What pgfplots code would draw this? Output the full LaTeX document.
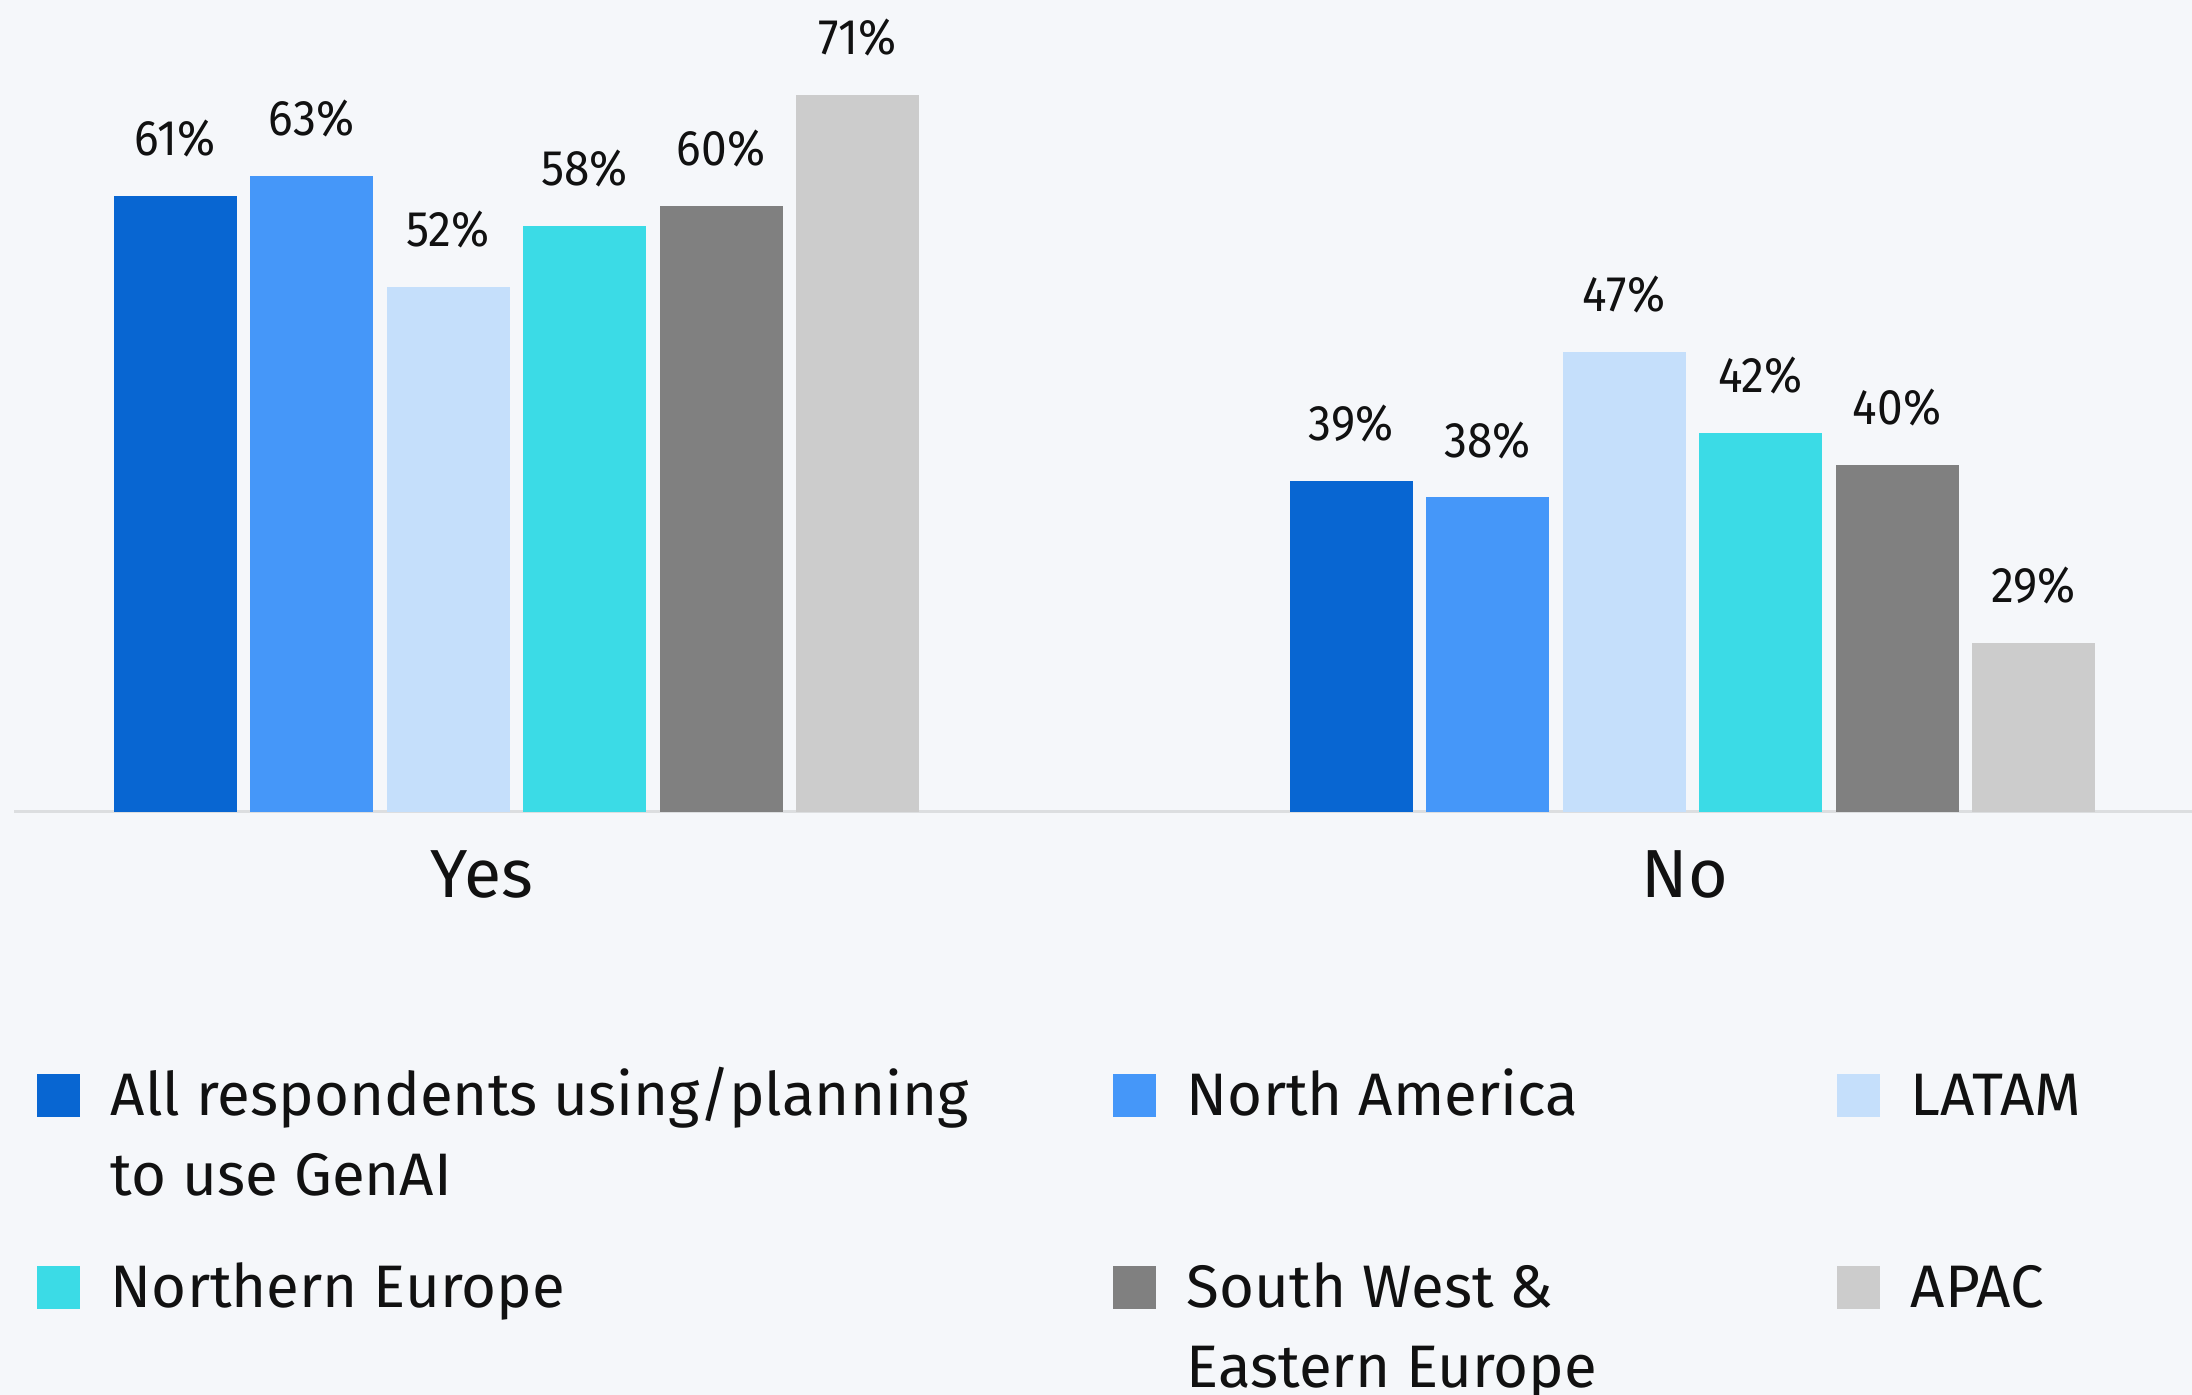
\documentclass[border=0pt]{standalone}
\usepackage{fontspec}
\setmainfont{Fira Sans}
\newfontfamily\labelfont[FakeStretch=0.92]{Fira Sans}
\usepackage{pgfplots}
\pgfplotsset{compat=1.18}
\definecolor{bgcol}{HTML}{F5F7FA}
\definecolor{cA}{HTML}{0866D2}
\definecolor{cB}{HTML}{4597F9}
\definecolor{cC}{HTML}{C5DFFB}
\definecolor{cD}{HTML}{3BDBE6}
\definecolor{cE}{HTML}{808080}
\definecolor{cF}{HTML}{CCCCCC}
\definecolor{axisgrey}{HTML}{DCDEE0}
\definecolor{txt}{HTML}{111111}
\pgfplotsset{
  mybar/.style={ybar, bar width=123, bar shift=0pt, draw=none, fill=#1,
    legend image code/.code={\fill[#1] (0pt,-0.5pt) rectangle (21.5pt,21pt);}},
  barlabels/.style={
    point meta=y,
    /pgf/number format/assume math mode=true,
    nodes near coords={\pgfmathprintnumber{\pgfplotspointmeta}\%},
    nodes near coords style={font=\labelfont\fontsize{25}{25}\selectfont, text=txt,
      inner sep=0pt, text depth=0pt, yshift=20pt}},
  base/.style={at={(7pt,291.6pt)}, anchor=south west, scale only axis,
    width=1089pt, height=405.9pt, xmin=14, xmax=2192},
}
\begin{document}
\begin{tikzpicture}
\fill[bgcol] (0,0) rectangle (1096pt,697.5pt);
\begin{axis}[base, ymin=0, ymax=80.42, barlabels,
  axis x line=bottom, axis y line=none,
  axis line style={draw=axisgrey, line width=1.3pt, -},
  xtick={482,1685}, xticklabels={Yes,No},
  xticklabel style={font=\fontsize{34}{34}\selectfont, text=txt, anchor=base, yshift=-43pt, inner sep=0pt},
  major tick length=0pt, ytick=\empty,
  legend columns=3,
  legend style={at={(0.01056,-0.3205)}, anchor=north west, draw=none, fill=none,
    inner sep=0pt, outer sep=0pt, column sep=15.5pt, row sep=73.5pt,
    font=\fontsize{30}{40}\selectfont, text=txt,
    cells={anchor=base west},
    nodes={inner sep=0pt, outer sep=0pt, text height=22pt, text depth=0pt, anchor=base west}},
]
\addplot[mybar=cA] coordinates {(175,61)};
\addlegendentry{\parbox[t]{485.5pt}{\raggedright All respondents using/planning\\to use GenAI}}
\addplot[mybar=cB] coordinates {(311.5,63)};
\addlegendentry{\parbox[t]{309.5pt}{\raggedright North America}}
\addplot[mybar=cC] coordinates {(448,52)};
\addlegendentry{LATAM}
\addplot[mybar=cD] coordinates {(584.5,58)};
\addlegendentry{\parbox[t]{485.5pt}{\raggedright Northern Europe}}
\addplot[mybar=cE] coordinates {(721,60)};
\addlegendentry{\parbox[t]{309.5pt}{\raggedright South West \&\\Eastern Europe}}
\addplot[mybar=cF] coordinates {(857.5,71)};
\addlegendentry{APAC}
\end{axis}
\begin{axis}[base, ymin=18.55, ymax=68.79, barlabels, hide axis]
\addplot[mybar=cA] coordinates {(1351,39)};
\addplot[mybar=cB] coordinates {(1487.5,38)};
\addplot[mybar=cC] coordinates {(1624,47)};
\addplot[mybar=cD] coordinates {(1760.5,42)};
\addplot[mybar=cE] coordinates {(1897,40)};
\addplot[mybar=cF] coordinates {(2033.5,29)};
\end{axis}
\pgfresetboundingbox
\useasboundingbox (0,0) rectangle (1096pt,697.5pt);
\end{tikzpicture}
\end{document}
